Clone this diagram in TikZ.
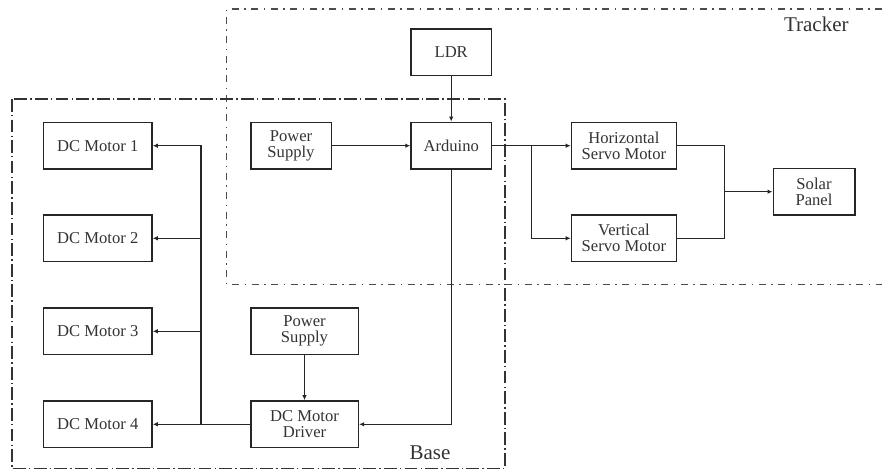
\documentclass[tikz,border=0pt]{standalone}
\usepackage{fontspec}
\setmainfont{Liberation Serif}
\usetikzlibrary{arrows.meta}
\begin{document}
\begin{tikzpicture}[x=1pt,y=-1pt,
  blk/.style={draw=black!85, line width=1.6pt, fill=white, minimum height=46.7pt,
    inner sep=0pt, align=center, font=\fontsize{16.6}{16}\selectfont, text=black!80},
  conn/.style={draw=black!85, line width=1.4pt},
  arr/.style={conn, -{Latex[length=5pt,width=4.5pt]}},
  trackerbox/.style={draw=black!70, line width=1.2pt,
    dash pattern=on 7pt off 5.5pt on 1.5pt off 5.5pt},
  basebox/.style={draw=black!80, line width=1.6pt,
    dash pattern=on 12.7pt off 3.3pt on 1.3pt off 3.3pt},
  grouplabel/.style={font=\fontsize{21}{22}\selectfont, text=black!80, inner sep=0pt}]
\useasboundingbox (0,0) rectangle (882,470);

% group frames
\draw[trackerbox] (882,9) -- (226.7,9) -- (226.7,284.3) -- (882,284.3);
\draw[basebox] (11.7,99) rectangle (505,468.3);
\node[grouplabel] (trk) at (816.3,24.3) {Tracker};
\node[grouplabel] (base) at (430,452.3) {Base};

% blocks
\node[blk, minimum width=80.3pt] (ldr) at (451.2,52.3) {LDR};
\node[blk, minimum width=80.3pt] (ard) at (451.2,145.7) {Arduino};
\node[blk, minimum width=80.6pt] (ps1) at (291,145.7) {Power\\Supply};
\node[blk, minimum width=108.3pt] (dc1) at (97.8,145.7) {DC Motor 1};
\node[blk, minimum width=108.3pt] (dc2) at (97.8,238.3) {DC Motor 2};
\node[blk, minimum width=108.3pt] (dc3) at (97.8,331.3) {DC Motor 3};
\node[blk, minimum width=108.3pt] (dc4) at (97.8,424.3) {DC Motor 4};
\node[blk, minimum width=107.6pt] (ps2) at (304.5,331.3) {Power\\Supply};
\node[blk, minimum width=107.6pt] (drv) at (304.5,424.3) {DC Motor\\Driver};
\node[blk, minimum width=104.8pt] (hs) at (623.9,145.7) {Horizontal\\Servo Motor};
\node[blk, minimum width=104.8pt] (vs) at (623.9,238.3) {Vertical\\Servo Motor};
\node[blk, minimum width=81.4pt] (sol) at (814,191.7) {Solar\\Panel};

% junction points
\coordinate (br) at (531.3,145.7);
\coordinate (mg) at (724.7,191.7);
\coordinate (bus) at (201,424.3);

% connectors
\draw[arr] (ldr.south) -- (ard.north);
\draw[arr] (ps1.east) -- (ard.west);
\draw[arr] (ard.east) -- (hs.west);
\draw[arr] (br) |- (vs.west);
\draw[conn] (hs.east) -| (mg);
\draw[conn] (vs.east) -| (mg);
\draw[arr] (mg) -- (sol.west);
\draw[arr] (ard.south) |- (drv.east);
\draw[arr] (ps2.south) -- (drv.north);
\draw[arr] (drv.west) -- (dc4.east);
\draw[arr] (bus) |- (dc1.east);
\draw[arr] (bus |- dc2.east) -- (dc2.east);
\draw[arr] (bus |- dc3.east) -- (dc3.east);
\end{tikzpicture}
\end{document}
